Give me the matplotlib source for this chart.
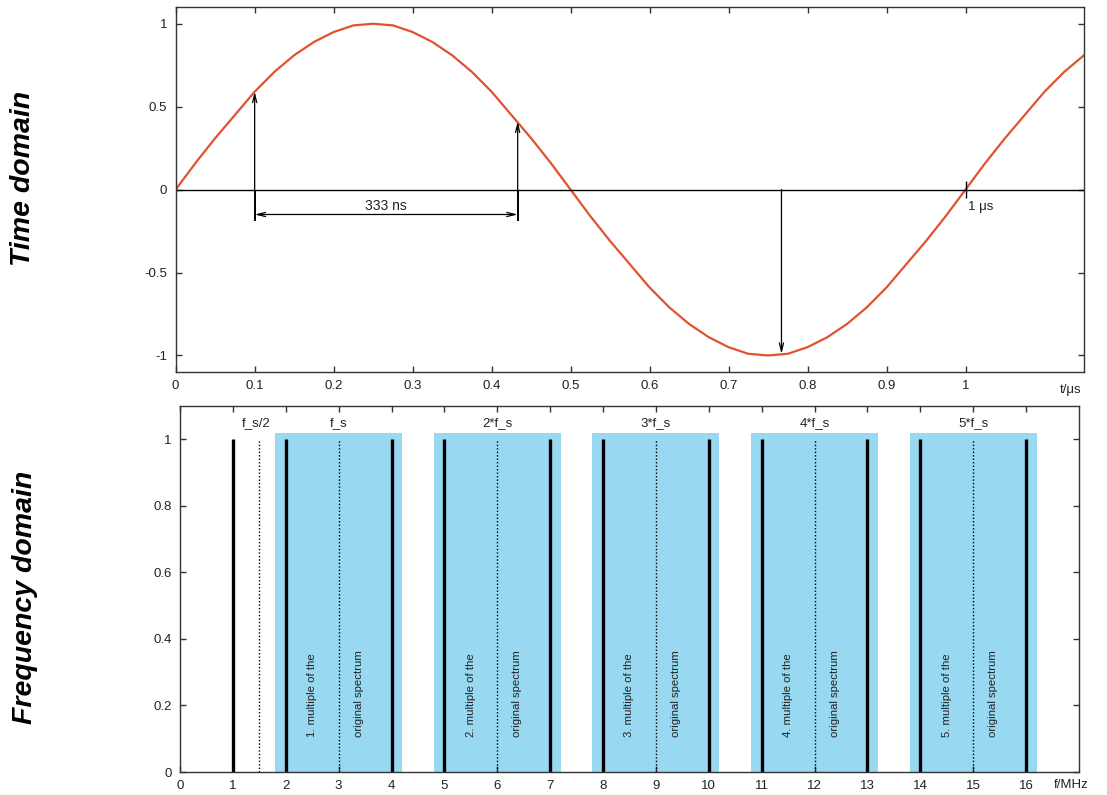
import matplotlib
matplotlib.use("Agg")
import matplotlib.pyplot as plt

plt.rcParams['font.family'] = ['Liberation Sans', 'DejaVu Sans']

# time domain: sine, every 0.025 us
t_us = [0, 0.025, 0.05, 0.075, 0.1, 0.125, 0.15, 0.175, 0.2, 0.225, 0.25,
        0.275, 0.3, 0.325, 0.35, 0.375, 0.4, 0.425, 0.45, 0.475, 0.5,
        0.525, 0.55, 0.575, 0.6, 0.625, 0.65, 0.675, 0.7, 0.725, 0.75,
        0.775, 0.8, 0.825, 0.85, 0.875, 0.9, 0.925, 0.95, 0.975, 1.0,
        1.025, 1.05, 1.075, 1.1, 1.125, 1.15]
amp = [0, 0.16, 0.31, 0.45, 0.59, 0.71, 0.81, 0.89, 0.95, 0.99, 1.0,
       0.99, 0.95, 0.89, 0.81, 0.71, 0.59, 0.45, 0.31, 0.16, 0,
       -0.16, -0.31, -0.45, -0.59, -0.71, -0.81, -0.89, -0.95, -0.99, -1.0,
       -0.99, -0.95, -0.89, -0.81, -0.71, -0.59, -0.45, -0.31, -0.16, 0,
       0.16, 0.31, 0.45, 0.59, 0.71, 0.81]
sample_t = [0.1, 0.433, 0.767]
sample_y = [0.59, 0.41, -0.99]
time_ticks = [0, 0.1, 0.2, 0.3, 0.4, 0.5, 0.6, 0.7, 0.8, 0.9, 1]
time_ticklabels = ["0", "0.1", "0.2", "0.3", "0.4", "0.5", "0.6", "0.7", "0.8", "0.9", "1"]
amp_ticks = [-1, -0.5, 0, 0.5, 1]
amp_ticklabels = ["-1", "-0.5", "0", "0.5", "1"]

# frequency domain
line_freqs = [1, 2, 4, 5, 7, 8, 10, 11, 13, 14, 16]
dotted_freqs = [1.5, 3, 6, 9, 12, 15]
band_centers = [3, 6, 9, 12, 15]
top_labels = ["f_s/2", "f_s", "2*f_s", "3*f_s", "4*f_s", "5*f_s"]
top_label_x = [1.45, 3, 6, 9, 12, 15]
freq_ticks = list(range(0, 17))
mag_ticks = [0, 0.2, 0.4, 0.6, 0.8, 1]
mag_ticklabels = ["0", "0.2", "0.4", "0.6", "0.8", "1"]

RED = '#e0532e'
BLUE = '#98d8f1'
TXT = '#222222'

fig = plt.figure(figsize=(11.07, 7.95), dpi=100)

def style_axes(ax):
    for s in ax.spines.values():
        s.set_linewidth(1.0)
        s.set_color('#333333')
    ax.tick_params(direction='in', length=4, width=1, top=True, right=True,
                   labelsize=9.5, labelcolor=TXT, color='#333333', pad=6)

# ---- time domain ----
ax1 = fig.add_axes([0.1587, 0.532, 0.8205, 0.459])
ax1.plot(t_us, amp, color=RED, lw=1.6)
ax1.axhline(0, color='black', lw=1)
ax1.set_xlim(0, 1.15)
ax1.set_ylim(-1.1, 1.1)
ax1.set_xticks(time_ticks, time_ticklabels)
ax1.set_yticks(amp_ticks, amp_ticklabels)
style_axes(ax1)

arrow_kw = dict(arrowstyle='->,head_length=0.6,head_width=0.15', color='black', lw=0.9,
                shrinkA=0, shrinkB=0)
for x, y in zip(sample_t, sample_y):
    ax1.annotate("", xy=(x, y), xytext=(x, 0), arrowprops=arrow_kw)
ax1.vlines(sample_t[:2], -0.19, 0, color='black', lw=1.4)
ax1.annotate("", xy=(sample_t[0], -0.15), xytext=(sample_t[1], -0.15),
             arrowprops=dict(arrowstyle='<->,head_length=0.6,head_width=0.15',
                             color='black', lw=0.9, shrinkA=0, shrinkB=0))
ax1.text((sample_t[0] + sample_t[1]) / 2, -0.1, "333 ns", ha='center', va='center',
         fontsize=10, color=TXT)
ax1.vlines([1.0], -0.05, 0.05, color='black', lw=1)
ax1.text(1.003, -0.105, "1 μs", ha='left', va='center', fontsize=9.5, color=TXT)
fig.text(0.957, 0.509, "t/μs", ha='left', va='center', fontsize=9.5, color=TXT)

# ---- frequency domain ----
ax2 = fig.add_axes([0.1626, 0.0289, 0.812, 0.4604])
for c in band_centers:
    ax2.axvspan(c - 1.2, c + 1.2, ymin=0, ymax=1.02 / 1.1, color=BLUE, lw=0)
ax2.vlines(line_freqs, 0, 1, color='black', lw=2.4)
ax2.vlines(dotted_freqs, 0, 1, color='black', lw=1, linestyles=(0, (1, 1.5)))
for x, lab in zip(top_label_x, top_labels):
    ax2.text(x, 1.05, lab, ha='center', va='center', fontsize=9.5, color=TXT)
for i, c in enumerate(band_centers):
    ax2.text(c - 0.5, 0.105, f"{i + 1}. multiple of the", rotation=90, ha='center',
             va='bottom', fontsize=8.2, color=TXT)
    ax2.text(c + 0.38, 0.105, "original spectrum", rotation=90, ha='center',
             va='bottom', fontsize=8.2, color=TXT)
ax2.set_xlim(0, 17)
ax2.set_ylim(0, 1.1)
ax2.set_xticks(freq_ticks)
ax2.set_yticks(mag_ticks, mag_ticklabels)
style_axes(ax2)
fig.text(0.952, 0.013, "f/MHz", ha='left', va='center', fontsize=9.5, color=TXT)

fig.text(0.021, 0.776, "Time domain", rotation=90, ha='center', va='center',
         fontsize=20.5, fontweight='bold', fontstyle='italic')
fig.text(0.023, 0.248, "Frequency domain", rotation=90, ha='center', va='center',
         fontsize=20.5, fontweight='bold', fontstyle='italic')

fig.savefig("out.png", dpi=100)
